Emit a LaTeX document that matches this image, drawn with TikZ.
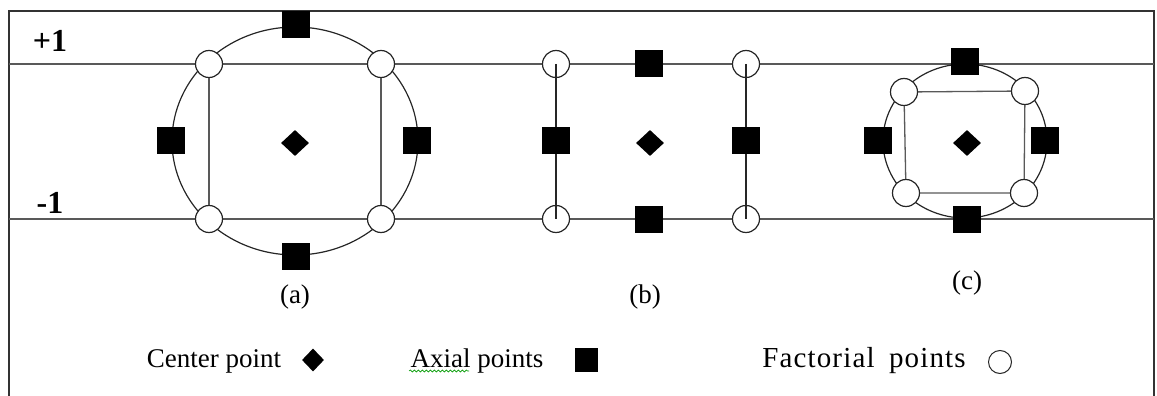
\documentclass[tikz,border=0pt]{standalone}
\usepackage{fontspec}
\setmainfont{Liberation Serif}
\usetikzlibrary{shapes.geometric,decorations.pathmorphing}

\tikzset{
	factorial/.style={circle, draw=black!85, fill=white, line width=1.2pt, minimum size=27pt, inner sep=0pt},
	axial/.style={rectangle, fill=black, minimum width=28pt, minimum height=27pt, inner sep=0pt},
	centrepoint/.style={diamond, fill=black, minimum width=28pt, minimum height=26pt, inner sep=0pt},
	level/.style={line width=1.6pt, black!65},
	rim/.style={line width=1.2pt, black!85},
	lbl/.style={font=\fontsize{27}{30}\selectfont},
	levellbl/.style={font=\fontsize{32}{34}\selectfont\bfseries},
}

\begin{document}
\begin{tikzpicture}[x=1pt,y=-1pt]
		\useasboundingbox (0,0) rectangle (1157,396);
		% frame, open at the bottom
		\draw[line width=1.8pt, black!80] (9,396) -- (9,11) -- (1154,11) -- (1154,396);
		% the two levels
		\coordinate (hiL) at (9,64);
		\coordinate (hiR) at (1154,64);
		\coordinate (loL) at (9,219);
		\coordinate (loR) at (1154,219);
		\draw[level] (hiL) -- (hiR);
		\draw[level] (loL) -- (loR);
		\node[levellbl] (plus) at (50,41) {+1};
		\node[levellbl] (minus) at (50,203) {-1};

		% (a)
		\draw[rim] (295,141) ellipse [x radius=123, y radius=114];
		\node[factorial] (a1) at (209,64) {};
		\node[factorial] (a2) at (381,64) {};
		\node[factorial] (a3) at (209,219) {};
		\node[factorial] (a4) at (381,219) {};
		\draw[level, line width=1.3pt] (a1) -- (a3) (a2) -- (a4);
		\node[axial] (aT) at (296,25) {};
		\node[axial] (aB) at (296,256) {};
		\node[axial] (aL) at (171,140) {};
		\node[axial] (aR) at (417,140) {};
		\node[centrepoint] (aC) at (295,143) {};
		\node[lbl] (aLab) at (295,297) {(a)};

		% (b)
		\node[factorial] (b1) at (556,64) {};
		\node[factorial] (b2) at (746,64) {};
		\node[factorial] (b3) at (556,219) {};
		\node[factorial] (b4) at (746,219) {};
		\draw[rim] (b1.center) -- (b3.center) (b2.center) -- (b4.center);
		\node[axial] (bT) at (649,64) {};
		\node[axial] (bB) at (649,219) {};
		\node[axial] (bL) at (556,140) {};
		\node[axial] (bR) at (746,140) {};
		\node[centrepoint] (bC) at (650,143) {};
		\node[lbl] (bLab) at (645,297) {(b)};

		% (c)
		\draw[rim] (965,141) ellipse [x radius=82, y radius=77];
		\node[factorial] (c1) at (904,92) {};
		\node[factorial] (c2) at (1025,91) {};
		\node[factorial] (c3) at (906,193) {};
		\node[factorial] (c4) at (1024,193) {};
		\draw[level, line width=1.3pt] (c1) -- (c2) (c2) -- (c4) (c4) -- (c3) (c3) -- (c1);
		\node[axial] (cT) at (965,62) {};
		\node[axial] (cB) at (967,219) {};
		\node[axial] (cL) at (878,140) {};
		\node[axial] (cR) at (1045,140) {};
		\node[centrepoint] (cC) at (967,143) {};
		\node[lbl] (cLab) at (967,283) {(c)};

		% legend
		\node[lbl, anchor=base] (lgC) at (214,367) {Center point};
		\node[centrepoint, minimum width=22pt, minimum height=23pt] (lgCm) at (313,360) {};
		\node[lbl, anchor=base] (lgA) at (477,367) {Axial points};
		\draw[green!60!black, line width=0.6pt, decorate, decoration={snake, amplitude=1pt, segment length=4pt}] (lgA.base west) ++(2,4) -- ++(60,0);
		\node[axial, minimum width=23pt, minimum height=24pt] (lgAm) at (586,360) {};
		\node[lbl, anchor=base] (lgF) at (864,367) {\fontsize{29}{30}\selectfont\addfontfeature{LetterSpace=4}Factorial\hspace{6pt} points};
		\node[factorial, minimum size=23pt, line width=1pt] (lgFm) at (1000,362) {};
	\end{tikzpicture}
\end{document}
